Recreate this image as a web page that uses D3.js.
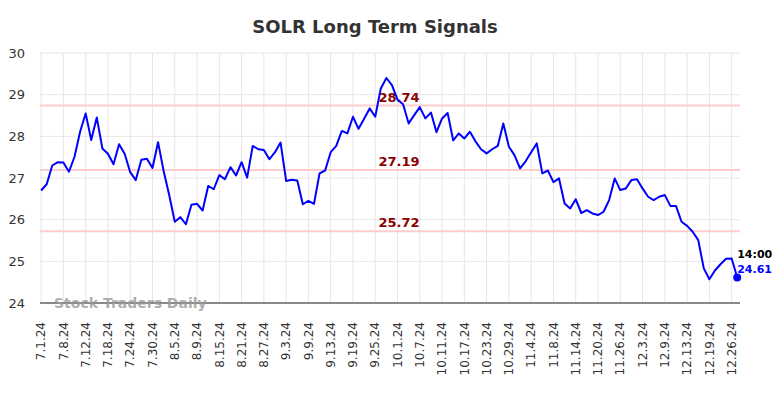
<!DOCTYPE html>
<html>
<head>
<meta charset="utf-8">
<script src="https://cdn.jsdelivr.net/npm/d3@7"></script>
<style>
  body { margin: 0; background: #fff; }
  text { font-family: "DejaVu Sans", sans-serif; }
</style>
</head>
<body>
<div id="chart"></div>
<script>
// tick labels, one every 4 trading days
const tickLabels = ["7.1.24", "7.8.24", "7.12.24", "7.18.24", "7.24.24", "7.30.24", "8.5.24", "8.9.24",
    "8.15.24", "8.21.24", "8.27.24", "9.3.24", "9.9.24", "9.13.24", "9.19.24", "9.25.24",
    "10.1.24", "10.7.24", "10.11.24", "10.17.24", "10.23.24", "10.29.24", "11.4.24", "11.8.24",
    "11.14.24", "11.20.24", "11.26.24", "12.3.24", "12.9.24", "12.13.24", "12.19.24", "12.26.24"];

// daily closes, 7.1.24 .. 12.27.24
const prices = [
    26.70, 26.85, 27.30, 27.38, 27.37, 27.15, 27.51, 28.11, 28.55, 27.91,
    28.45, 27.71, 27.58, 27.33, 27.81, 27.58, 27.14, 26.95, 27.44, 27.46,
    27.24, 27.86, 27.17, 26.59, 25.95, 26.06, 25.89, 26.36, 26.38, 26.22,
    26.81, 26.73, 27.07, 26.97, 27.26, 27.06, 27.38, 27.01, 27.77, 27.69,
    27.67, 27.45, 27.62, 27.85, 26.93, 26.96, 26.94, 26.37, 26.45, 26.38,
    27.11, 27.18, 27.62, 27.77, 28.13, 28.07, 28.47, 28.18, 28.42, 28.67,
    28.47, 29.15, 29.40, 29.23, 28.88, 28.77, 28.31, 28.51, 28.70, 28.43,
    28.57, 28.10, 28.43, 28.56, 27.90, 28.07, 27.95, 28.11, 27.88, 27.69,
    27.59, 27.69, 27.77, 28.31, 27.75, 27.55, 27.23, 27.40, 27.62, 27.83,
    27.11, 27.18, 26.90, 26.99, 26.39, 26.27, 26.49, 26.16, 26.23, 26.15,
    26.11, 26.19, 26.47, 26.99, 26.71, 26.75, 26.95, 26.97, 26.75, 26.55,
    26.47, 26.55, 26.59, 26.33, 26.33, 25.95, 25.85, 25.71, 25.51, 24.83,
    24.57, 24.78, 24.93, 25.06, 25.07, 24.61
];

const signalLevels = [28.74, 27.19, 25.72];
const yTicks = [24, 25, 26, 27, 28, 29, 30];
const lastTime = "14:00";

const W = 784, H = 398;
const margin = { top: 53, right: 44, bottom: 95, left: 40 };
const width = W - margin.left - margin.right;
const height = H - margin.top - margin.bottom;

const svg = d3.select("#chart")
    .append("svg")
    .attr("width", W)
    .attr("height", H);

const x = d3.scaleLinear()
    .domain([-0.2, prices.length - 0.5])
    .range([margin.left, margin.left + width]);

const y = d3.scaleLinear()
    .domain([24, 30])
    .range([margin.top + height, margin.top]);

// title
svg.append("text")
    .attr("x", 375)
    .attr("y", 33)
    .attr("text-anchor", "middle")
    .attr("font-size", "18px")
    .attr("font-weight", "bold")
    .attr("fill", "#333")
    .text("SOLR Long Term Signals");

// grid
const tickIdx = tickLabels.map((d, i) => i * 4);
svg.append("g").selectAll("line")
    .data(tickIdx)
    .enter().append("line")
    .attr("x1", d => x(d)).attr("x2", d => x(d))
    .attr("y1", margin.top).attr("y2", margin.top + height)
    .attr("stroke", "#e6e6e6")
    .attr("stroke-width", 1);

svg.append("g").selectAll("line")
    .data(yTicks)
    .enter().append("line")
    .attr("x1", margin.left).attr("x2", margin.left + width)
    .attr("y1", d => y(d)).attr("y2", d => y(d))
    .attr("stroke", "#e6e6e6")
    .attr("stroke-width", 1);

// y labels
svg.append("g").selectAll("text")
    .data(yTicks)
    .enter().append("text")
    .attr("x", 25)
    .attr("y", d => y(d))
    .attr("dy", "0.35em")
    .attr("text-anchor", "end")
    .attr("font-size", "13px")
    .attr("fill", "#333")
    .text(d => d);

// x labels
svg.append("g").selectAll("text")
    .data(tickLabels)
    .enter().append("text")
    .attr("transform", (d, i) => `translate(${x(i * 4)},${margin.top + height + 19}) rotate(-90)`)
    .attr("dy", "0.35em")
    .attr("text-anchor", "end")
    .attr("font-size", "12px")
    .attr("fill", "#333")
    .text(d => d);

// signal lines
svg.append("g").selectAll("line")
    .data(signalLevels)
    .enter().append("line")
    .attr("x1", margin.left).attr("x2", margin.left + width)
    .attr("y1", d => y(d)).attr("y2", d => y(d))
    .attr("stroke", "#ffcccc")
    .attr("stroke-width", 2);

svg.append("g").selectAll("text")
    .data(signalLevels)
    .enter().append("text")
    .attr("x", 399)
    .attr("y", d => y(d) - 4)
    .attr("text-anchor", "middle")
    .attr("font-size", "13px")
    .attr("font-weight", "bold")
    .attr("fill", "#8b0000")
    .text(d => d.toFixed(2));

// bottom axis line
svg.append("line")
    .attr("x1", margin.left).attr("x2", margin.left + width)
    .attr("y1", y(24)).attr("y2", y(24))
    .attr("stroke", "#666")
    .attr("stroke-width", 1.5);

// watermark
svg.append("text")
    .attr("x", 54)
    .attr("y", y(24) + 5)
    .attr("font-size", "14px")
    .attr("font-weight", "bold")
    .attr("fill", "#999")
    .attr("fill-opacity", 0.8)
    .text("Stock Traders Daily");

// price line
const line = d3.line()
    .x((d, i) => x(i))
    .y(d => y(d));

svg.append("path")
    .datum(prices)
    .attr("d", line)
    .attr("fill", "none")
    .attr("stroke", "#0000ff")
    .attr("stroke-width", 2)
    .attr("stroke-linejoin", "round");

// last point
const lastI = prices.length - 1;
const last = prices[lastI];
svg.append("circle")
    .attr("cx", x(lastI))
    .attr("cy", y(last))
    .attr("r", 4)
    .attr("fill", "#0000ff");

svg.append("text")
    .attr("x", x(lastI))
    .attr("y", y(last) - 20)
    .attr("font-size", "11px")
    .attr("font-weight", "bold")
    .attr("fill", "#000")
    .text(lastTime);

svg.append("text")
    .attr("x", x(lastI))
    .attr("y", y(last) - 5)
    .attr("font-size", "11px")
    .attr("font-weight", "bold")
    .attr("fill", "#0000ff")
    .text(last.toFixed(2));
</script>
</body>
</html>
